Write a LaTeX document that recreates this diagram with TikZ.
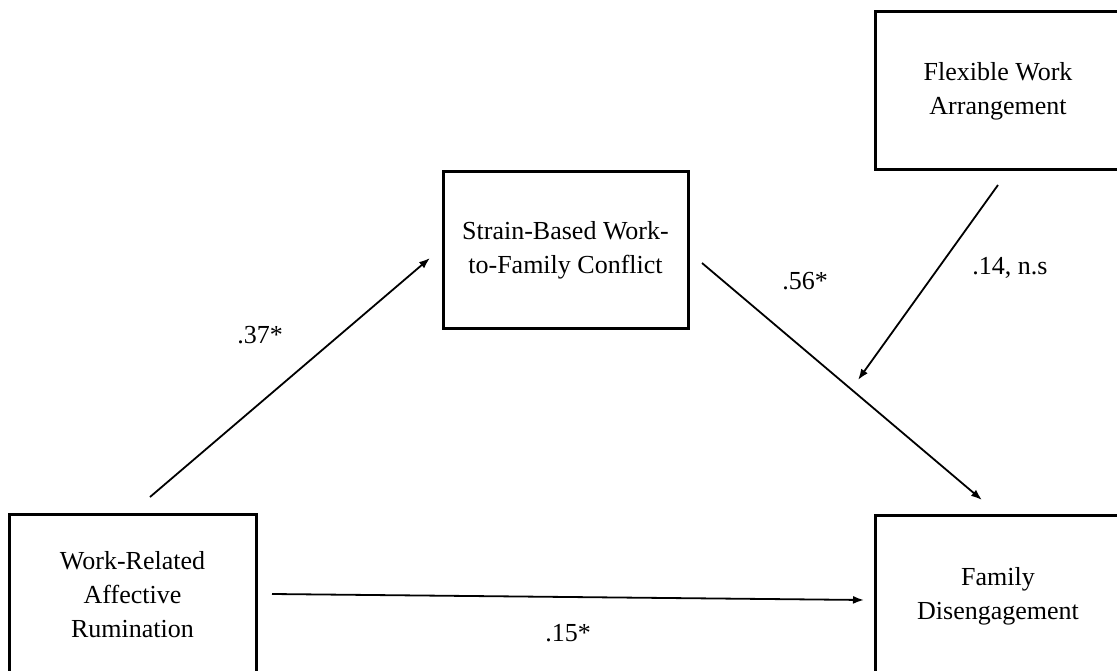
\documentclass[tikz,border=0pt]{standalone}
\usepackage{fontspec}
\setmainfont{Liberation Serif}
\usetikzlibrary{arrows.meta}
\begin{document}
\begin{tikzpicture}[x=1pt,y=-1pt,
  varbox/.style={draw, line width=3pt, rectangle, inner sep=0pt, align=center,
    font=\fontsize{26}{34}\selectfont},
  path/.style={line width=1.8pt, -{Latex[length=11pt,width=8pt]}},
  coef/.style={font=\fontsize{26}{30}\selectfont, inner sep=0pt}]
\useasboundingbox (0,0) rectangle (1117,671);
\node[varbox, minimum width=246pt, minimum height=158pt] (fwa) at (998,91) {Flexible Work\\Arrangement};
\node[varbox, minimum width=245pt, minimum height=156pt] (sbc) at (565.5,250) {Strain-Based Work-\\to-Family Conflict};
\node[varbox, minimum width=247pt, minimum height=162pt] (wra) at (132.5,595) {Work-Related\\Affective\\Rumination};
\node[varbox, minimum width=246pt, minimum height=163pt] (fd) at (998,596.5) {Family\\Disengagement};
\coordinate (a1) at (150,497);
\coordinate (a2) at (430,258);
\coordinate (b1) at (272,594);
\coordinate (b2) at (864,600);
\coordinate (c1) at (702,263);
\coordinate (c2) at (982,500);
\coordinate (d1) at (998,185);
\coordinate (d2) at (858,380);
\draw[path] (a1) -- (a2);
\draw[path] (b1) -- (b2);
\draw[path] (c1) -- (c2);
\draw[path] (d1) -- (d2);
\node[coef] (l37) at (260,335) {.37*};
\node[coef] (l15) at (568,633) {.15*};
\node[coef] (l56) at (805,281) {.56*};
\node[coef] (l14) at (1010,268) {.14, n.s};
\end{tikzpicture}
\end{document}
